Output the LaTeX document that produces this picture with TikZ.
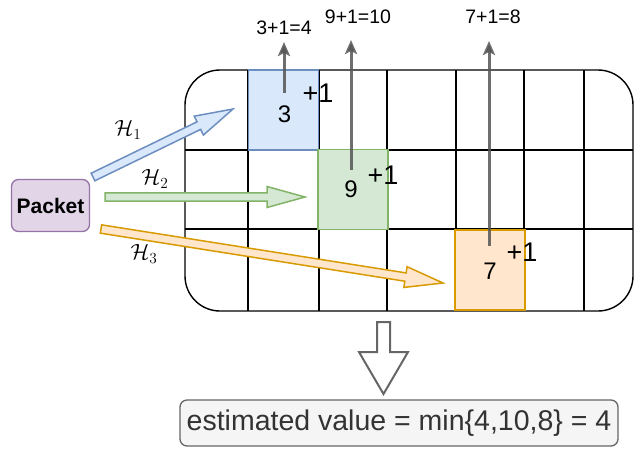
\RequirePackage{fix-cm}
\documentclass[tikz,border=0pt]{standalone}
\usepackage{fontspec}
\setmainfont{Liberation Sans}
\usetikzlibrary{arrows.meta,calc}
\definecolor{bluef}{HTML}{DAE8FC}\definecolor{blues}{HTML}{6C8EBF}
\definecolor{greenf}{HTML}{D5E8D4}\definecolor{greens}{HTML}{82B366}
\definecolor{orangef}{HTML}{FFE6CC}\definecolor{oranges}{HTML}{D79B00}
\definecolor{purplef}{HTML}{E1D5E7}\definecolor{purples}{HTML}{9673A6}
\definecolor{grayf}{HTML}{F5F5F5}\definecolor{grays}{HTML}{666666}
\definecolor{grayt}{HTML}{333333}\definecolor{arrowgray}{HTML}{555555}
\newcommand\blockarrow[3]{%
  \path let \p1=(#1), \p2=(#2) in \pgfextra{%
    \pgfmathsetmacro\baang{atan2(\y2-\y1,\x2-\x1)}%
    \pgfmathsetmacro\balen{veclen(\x2-\x1,\y2-\y1)}%
    \global\let\baAng\baang \global\let\baLen\balen};
  \begin{scope}[shift={(#1)},rotate=\baAng]
    \draw[#3] (0,-4.2) -- ({\baLen-38},-4.2) -- ({\baLen-38},-10.5) -- (\baLen,0)
      -- ({\baLen-38},10.5) -- ({\baLen-38},4.2) -- (0,4.2) -- cycle;
  \end{scope}}
\tikzset{
  gridline/.style={line width=1.4pt,draw=black},
  cell/.style={minimum width=70pt,minimum height=80pt,inner sep=0pt,line width=1.8pt},
  cellnum/.style={inner sep=0pt,font=\fontsize{24}{26}\selectfont},
  plusone/.style={inner sep=0pt,font=\fontsize{27}{29}\selectfont},
  sumlabel/.style={inner sep=0pt,font=\fontsize{19.5}{21}\selectfont},
  hlabel/.style={inner sep=0pt,font=\fontsize{22}{24}\selectfont},
  uparrow/.style={line width=3pt,draw=arrowgray,opacity=0.85,-{Stealth[length=14pt,width=12pt,inset=3pt]}},
  flexblue/.style={line width=1.5pt,draw=blues,fill=bluef},
  flexgreen/.style={line width=1.5pt,draw=greens,fill=greenf},
  flexorange/.style={line width=1.5pt,draw=oranges,fill=orangef},
}
\begin{document}
\begin{tikzpicture}[x=1pt,y=-1pt]
\useasboundingbox (0,0) rectangle (634,448);
% grid
\draw[gridline,rounded corners=35pt] (185,70) rectangle (633,311);
\foreach \x in {248,319,387,456,524,584} \draw[gridline] (\x,70) -- (\x,311);
\foreach \y in {150,229} \draw[gridline] (185,\y) -- (633,\y);
% cells
\node[cell,fill=bluef,draw=blues] (c1) at (283.5,110) {};
\node[cell,fill=greenf,draw=greens] (c2) at (353,189.5) {};
\node[cell,fill=orangef,draw=oranges] (c3) at (490,270) {};
\node[cellnum] (n1) at (284.5,114) {3};
\node[cellnum] (n2) at (351,189) {9};
\node[cellnum] (n3) at (490,271) {7};
\node[plusone] (p1) at (318,93) {+1};
\node[plusone] (p2) at (383,175) {+1};
\node[plusone] (p3) at (522,252) {+1};
% sum labels
\node[sumlabel] (s1) at (284,28) {3+1=4};
\node[sumlabel] (s2) at (358,17) {9+1=10};
\node[sumlabel] (s3) at (493,17) {7+1=8};
% up arrows
\coordinate (u1a) at (284,93); \coordinate (u1b) at (284,42);
\coordinate (u2a) at (351,170); \coordinate (u2b) at (351,40);
\coordinate (u3a) at (489,246); \coordinate (u3b) at (489,41);
\draw[uparrow] (u1a) -- (u1b);
\draw[uparrow] (u2a) -- (u2b);
\draw[uparrow] (u3a) -- (u3b);
% packet
\node[draw=purples,fill=purplef,line width=1.3pt,rounded corners=7pt,minimum width=78pt,minimum height=52pt,inner sep=0pt,font=\fontsize{21}{23}\selectfont\bfseries] (pk) at (50.5,205.5) {Packet};
% block arrows
\coordinate (h1a) at (93,177); \coordinate (h1b) at (233,109);
\coordinate (h2a) at (105,197); \coordinate (h2b) at (305,197);
\coordinate (h3a) at (101,229); \coordinate (h3b) at (443,283);
\blockarrow{h1a}{h1b}{flexblue}
\blockarrow{h2a}{h2b}{flexgreen}
\blockarrow{h3a}{h3b}{flexorange}
\node[hlabel] (l1) at (128,130) {$\mathcal{H}_1$};
\node[hlabel] (l2) at (155,179) {$\mathcal{H}_2$};
\node[hlabel] (l3) at (144,254) {$\mathcal{H}_3$};
% down arrow
\draw[line width=2pt,draw=grays,fill=white,line join=miter] (377,322) -- (390,322) -- (390,352) -- (408,352) -- (383.5,394) -- (359,352) -- (377,352) -- cycle;
% estimate box
\node[draw=grays,fill=grayf,text=grayt,line width=1.3pt,rounded corners=7pt,minimum width=438pt,minimum height=46pt,inner sep=0pt,font=\fontsize{28.5}{30}\selectfont] (est) at (399,423) {estimated value = min\{4,10,8\} = 4};
\end{tikzpicture}
\end{document}
